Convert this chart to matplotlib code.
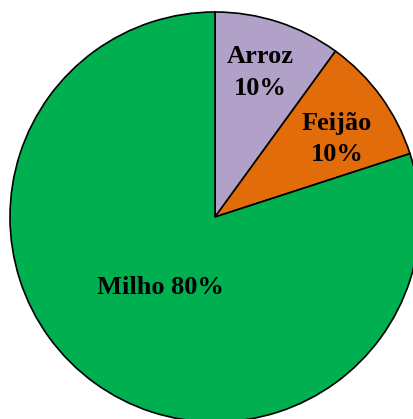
from matplotlib import pyplot as plt

labels=["Arroz\n10%","Feijão\n10%","Milho 80%"]
values=[10,10,80]
colors=["#B1A0C7","#E26B0A","#00B050"]
# label centres as fractions of the radius, relative to the pie centre
label_pos=[(0.22,0.705),(0.595,0.38),(-0.268,-0.345)]

fig=plt.figure(figsize=(4.14,4.19),dpi=100)
ax=fig.add_axes([0,0,1,1])

cx,cy,r=215,202,205
wedges,_=ax.pie(values,colors=colors,startangle=90,counterclock=False,
                center=(cx,cy),radius=r,frame=True,
                wedgeprops=dict(edgecolor="black",linewidth=1.2))
ax.set_xlim(0,414)
ax.set_ylim(0,419)
ax.set_aspect("equal")
ax.axis("off")

for lab,(px,py) in zip(labels,label_pos):
    ax.text(cx+px*r,cy+py*r,lab,ha="center",va="center",linespacing=1.45,
            fontsize=19,fontweight="bold",family="Liberation Serif")

fig.savefig("out.png",dpi=100)
